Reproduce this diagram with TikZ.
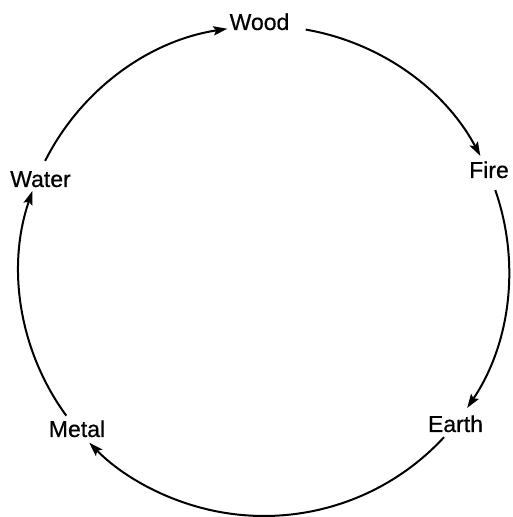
\documentclass[tikz,border=0pt]{standalone}
\usepackage{fontspec}
\setmainfont{Liberation Sans}
\newfontfamily\lblfont[FakeBold=0.6]{Liberation Sans}
\usetikzlibrary{arrows.meta}
\begin{document}
\begin{tikzpicture}[x=0.5pt,y=0.5pt,
  lbl/.style={anchor=base, font=\lblfont\fontsize{11.5}{13}\selectfont, inner sep=0pt},
  conn/.style={line width=1pt, -{Stealth[length=7pt,width=4.6pt,inset=1.3pt]}}]
\useasboundingbox (0,0) rectangle (512,517);
\coordinate (o) at (264,246);
% labels
\node[lbl] (wood)  at (259.5,487) {Wood};
\node[lbl] (fire)  at (489,339)   {Fire};
\node[lbl] (earth) at (455.5,85)  {Earth};
\node[lbl] (metal) at (77,80)     {Metal};
\node[lbl] (water) at (40.5,330)  {Water};
% arc start points (named free ends)
\path (o) ++(80.2:122.5pt)  coordinate (woodout);
\path (o) ++(19.3:122.5pt)  coordinate (fireout);
\path (o) ++(-42.7:122.5pt) coordinate (earthout);
\path (o) ++(216.2:122.5pt) coordinate (metalout);
\path (o) ++(153.3:122.5pt) coordinate (waterout);
% connectors
\draw[conn] (woodout)  arc[start angle=80.2,  end angle=28.0,   radius=122.5pt];
\draw[conn] (fireout)  arc[start angle=19.3,  end angle=-34.0,  radius=122.5pt];
\draw[conn] (earthout) arc[start angle=-42.7, end angle=-135.5, radius=122.5pt];
\draw[conn] (metalout) arc[start angle=216.2, end angle=160.9,  radius=122.5pt];
\draw[conn] (waterout) arc[start angle=153.3, end angle=98.6,   radius=122.5pt];
\end{tikzpicture}
\end{document}
